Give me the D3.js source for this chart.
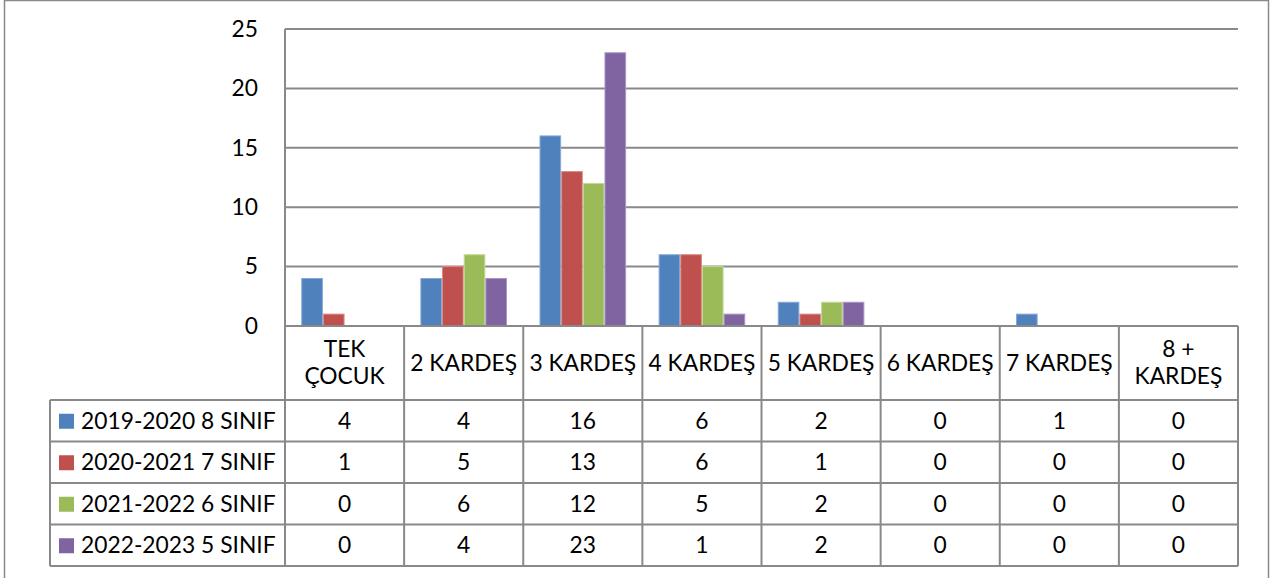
<!DOCTYPE html>
<html><head><meta charset="utf-8">
<script src="https://cdn.jsdelivr.net/npm/d3@7"></script>
<style>body{margin:0;background:#fff}svg{display:block}</style>
</head><body>
<svg id="c" width="1274" height="578"></svg>
<script>
const categories = ["TEK ÇOCUK","2 KARDEŞ","3 KARDEŞ","4 KARDEŞ","5 KARDEŞ","6 KARDEŞ","7 KARDEŞ","8 + KARDEŞ"];
const categoryLines = [["TEK","ÇOCUK"],["2 KARDEŞ"],["3 KARDEŞ"],["4 KARDEŞ"],["5 KARDEŞ"],["6 KARDEŞ"],["7 KARDEŞ"],["8 +","KARDEŞ"]];
const seriesNames = ["2019-2020 8 SINIF","2020-2021 7 SINIF","2021-2022 6 SINIF","2022-2023 5 SINIF"];
const s2019 = [4,4,16,6,2,0,1,0];
const s2020 = [1,5,13,6,1,0,0,0];
const s2021 = [0,6,12,5,2,0,0,0];
const s2022 = [0,4,23,1,2,0,0,0];
const seriesValues = [s2019,s2020,s2021,s2022];
const colors = ["#4F81BD","#C0504D","#9BBB59","#8064A2"];
const edgeColors = ["#8AAAD6","#D98A88","#C2D99A","#AA97C4"];
const yTicks = [0,5,10,15,20,25];

(function(){
const FONT = "Lato, 'Open Sans', sans-serif";
const FS = 22.8;
const svg = d3.select("#c");
const gray = "#898989";

const pLeft = 285, pRight = 1238, pTop = 29, pBottom = 326;
const tableLeft = 50;
const headerBottom = 400;
const rowH = 41.5;

svg.append("rect").attr("x",4.5).attr("y",0.5).attr("width",1264).attr("height",590)
  .attr("fill","none").attr("stroke",gray).attr("stroke-width",1.5);

const x = d3.scaleBand().domain(categories).range([pLeft,pRight]);
const bw = x.bandwidth()/(seriesNames.length+1.5);
const y = d3.scaleLinear().domain([0,25]).range([pBottom,pTop]);

svg.append("g").selectAll("line").data(yTicks).join("line")
  .attr("x1",pLeft).attr("x2",pRight).attr("y1",d=>y(d)).attr("y2",d=>y(d))
  .attr("stroke",gray).attr("stroke-width",2);

const yAxis = svg.append("g").attr("transform",`translate(${pLeft},0)`)
  .call(d3.axisLeft(y).tickValues(yTicks).tickSize(0).tickPadding(27));
yAxis.select(".domain").remove();
yAxis.selectAll("text").attr("font-family",FONT).attr("font-size",FS).attr("fill","#000").attr("dy","0.32em");

seriesValues.forEach((vals,si)=>{
  svg.append("g").selectAll("rect").data(vals.map((v,i)=>({v,c:categories[i]}))).join("rect")
    .attr("x",d=>x(d.c)+bw*0.75+si*bw+0.5)
    .attr("y",d=>y(d.v))
    .attr("width",bw-1)
    .attr("height",d=>y(0)-y(d.v))
    .attr("fill",colors[si])
    .attr("stroke",d=>d.v>0?edgeColors[si]:"none").attr("stroke-width",1);
});

const tableBottom = headerBottom + rowH*seriesNames.length;
const tl = svg.append("g").attr("stroke",gray).attr("stroke-width",2).attr("fill","none");
tl.append("line").attr("x1",pLeft).attr("x2",pLeft).attr("y1",pTop).attr("y2",tableBottom);
categories.forEach((c)=>{
  tl.append("line").attr("x1",x(c)+x.bandwidth()).attr("x2",x(c)+x.bandwidth()).attr("y1",pBottom).attr("y2",tableBottom);
});
tl.append("line").attr("x1",pLeft).attr("x2",pRight).attr("y1",pBottom).attr("y2",pBottom);
d3.range(seriesNames.length+1).forEach(r=>{
  const yy = headerBottom + r*rowH;
  tl.append("line").attr("x1",tableLeft).attr("x2",pRight).attr("y1",yy).attr("y2",yy);
});
tl.append("line").attr("x1",tableLeft).attr("x2",tableLeft).attr("y1",headerBottom).attr("y2",tableBottom);

categories.forEach((c,i)=>{
  const lines = categoryLines[i];
  const cx = x(c)+x.bandwidth()/2;
  const cy = (pBottom+headerBottom)/2;
  const lh = 27;
  lines.forEach((ln,j)=>{
    svg.append("text").attr("x",cx).attr("y",cy+(j-(lines.length-1)/2)*lh).attr("dy","0.35em")
      .attr("text-anchor","middle").attr("font-family",FONT).attr("font-size",FS).text(ln);
  });
});

seriesNames.forEach((name,si)=>{
  const cy = headerBottom + si*rowH + rowH/2;
  svg.append("rect").attr("x",59).attr("y",cy-7).attr("width",15).attr("height",15).attr("fill",colors[si]);
  svg.append("text").attr("x",81).attr("y",cy).attr("dy","0.35em").attr("font-family",FONT).attr("font-size",FS).text(name);
  seriesValues[si].forEach((v,i)=>{
    svg.append("text").attr("x",x(categories[i])+x.bandwidth()/2).attr("y",cy).attr("dy","0.35em")
      .attr("text-anchor","middle").attr("font-family",FONT).attr("font-size",FS).text(v);
  });
});
})();
</script>
</body></html>
